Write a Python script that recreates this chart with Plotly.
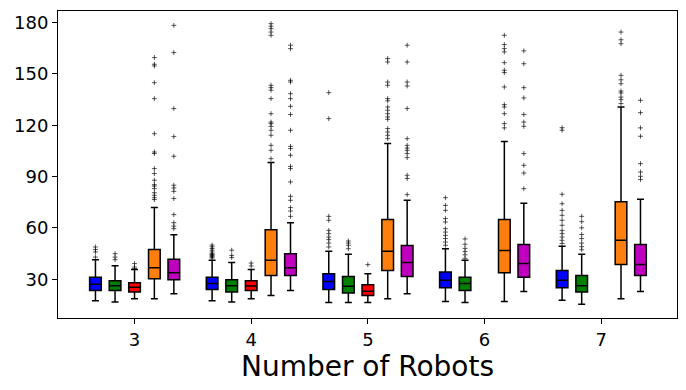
import plotly.graph_objects as go

ROBOTS = [3, 4, 5, 6, 7]
SERIES_NAMES = ["blue", "green", "red", "orange", "magenta"]
SERIES_COLORS = ["#0000ff", "#008000", "#ff0000", "#ff7f0e", "#bf00bf"]
# red has no runs for 6 and 7 robots
SERIES_ROBOTS = [ROBOTS, ROBOTS, [3, 4, 5], ROBOTS, ROBOTS]
OFFSETS = [-0.335, -0.167, 0.0, 0.17, 0.337]

# per series, one value per robot count
WHISK_LOW = [
    [17.5, 17.5, 16.4, 17.1, 17.7],
    [16.7, 16.7, 16.4, 16.4, 15.4],
    [18.7, 18.7, 16.4],
    [18.7, 20.5, 18.7, 17.1, 18.7],
    [21.6, 23.4, 21.6, 22.9, 22.9],
]
Q1 = [
    [23.4, 24.0, 24.0, 25.1, 25.1],
    [23.4, 22.6, 22.0, 23.4, 22.6],
    [22.6, 23.4, 20.5],
    [30.4, 32.2, 35.1, 33.9, 38.6],
    [29.8, 32.2, 31.6, 31.2, 32.2],
]
MEDIAN = [
    [27.1, 27.5, 28.8, 29.4, 29.4],
    [26.3, 26.3, 25.9, 27.5, 26.3],
    [25.3, 26.1, 23.0],
    [36.8, 41.1, 46.4, 46.9, 52.8],
    [33.9, 36.8, 39.8, 39.2, 38.6],
]
Q3 = [
    [31.2, 31.2, 33.3, 34.3, 35.1],
    [29.2, 29.8, 31.6, 31.2, 32.2],
    [28.0, 29.2, 26.9],
    [47.5, 59.0, 64.9, 64.9, 75.4],
    [41.7, 45.0, 49.7, 50.3, 50.3],
]
WHISK_HIGH = [
    [41.5, 41.1, 46.4, 47.9, 49.3],
    [38.0, 39.9, 44.6, 41.1, 44.6],
    [35.8, 35.8, 33.3],
    [71.9, 98.2, 109.3, 110.5, 130.7],
    [56.1, 63.1, 76.2, 74.4, 76.8],
]
OUTLIERS = [
    [
        [43.0, 46.0, 47.4, 48.9],
        [42.5, 43.0, 43.5, 44.0, 44.5, 45.0, 46.0, 47.0, 48.0, 49.0, 50.0],
        [48.9, 51.2, 53.2, 54.7, 56.7, 58.6, 64.5, 66.8, 123.9, 139.1],
        [49.9, 51.8, 53.8, 55.7, 57.6, 59.6, 63.5, 65.5, 70.3, 73.2, 77.7],
        [50.9, 52.8, 54.7, 56.7, 58.6, 61.6, 64.5, 67.4, 70.3, 74.2, 79.7, 117.1, 118.6],
    ],
    [
        [41.5, 43.0, 45.0],
        [42.7, 44.0, 47.0],
        [47.9, 49.9, 51.2, 52.4],
        [42.3, 44.3, 46.2, 48.1, 50.5, 53.6],
        [47.3, 49.1, 51.2, 53.8, 56.2, 60.1, 63.7, 66.8],
    ],
    [
        [36.3, 37.2, 39.2],
        [37.8, 39.5],
        [38.6],
    ],
    [
        [76.6, 77.7, 79.1, 80.6, 83.0, 84.5, 85.3, 87.9, 91.8, 94.7, 103.5, 104.4,
         115.1, 135.6, 144.9, 154.7, 155.7, 159.6],
        [100.5, 105.4, 108.3, 114.2, 117.1, 119.4, 121.0, 121.9, 126.8, 135.6,
         140.5, 142.0, 143.4, 172.6, 174.5, 176.5, 177.9, 179.4],
        [112.2, 114.2, 116.1, 118.1, 123.5, 124.9, 126.8, 128.8, 130.7, 134.3,
         135.6, 143.4, 145.3, 157.0, 159.0],
        [118.5, 121.0, 126.8, 130.7, 132.1, 142.4, 150.8, 152.2, 156.6, 162.9,
         164.8, 167.2, 172.6],
        [132.7, 135.0, 136.5, 138.9, 140.0, 144.3, 146.6, 149.2, 167.7, 170.0, 174.5],
    ],
    [
        [59.6, 61.1, 63.1, 67.8, 77.2, 81.4, 83.4, 85.0, 101.9, 113.4, 129.8, 162.5, 178.4],
        [66.8, 69.9, 71.9, 76.2, 78.5, 86.9, 94.7, 96.0, 102.5, 106.4, 107.7, 117.1,
         126.3, 131.1, 135.6, 138.5, 145.3, 146.3, 164.8, 166.8],
        [79.5, 88.9, 90.8, 101.1, 103.5, 105.4, 106.7, 108.3, 112.2, 129.8, 143.0,
         145.3, 157.0, 166.8],
        [83.0, 92.1, 96.6, 103.5, 119.4, 121.9, 126.3, 136.0, 142.0, 156.0, 163.5],
        [88.3, 90.2, 92.7, 97.6, 113.6, 118.5, 127.4, 134.6],
    ],
]

FONT = "DejaVu Sans"


def build_figure() -> go.Figure:
    fig = go.Figure()
    for i, name in enumerate(SERIES_NAMES):
        xs = [r + OFFSETS[i] for r in SERIES_ROBOTS[i]]
        fig.add_trace(go.Box(
            name=name,
            x=xs,
            q1=Q1[i], median=MEDIAN[i], q3=Q3[i],
            lowerfence=WHISK_LOW[i], upperfence=WHISK_HIGH[i],
            width=0.1,
            whiskerwidth=0.6,
            fillcolor=SERIES_COLORS[i],
            line=dict(color="black", width=1.5),
            boxpoints=False,
            showlegend=False,
        ))
        # fliers drawn as small crosses
        fx, fy = [], []
        for x, pts in zip(xs, OUTLIERS[i]):
            fx += [x] * len(pts)
            fy += pts
        fig.add_trace(go.Scatter(
            x=fx, y=fy, mode="markers",
            marker=dict(symbol="cross-thin", size=3.5,
                        line=dict(color="rgba(0,0,0,0.65)", width=1)),
            showlegend=False, hoverinfo="y",
        ))

    axis_style = dict(
        showline=True, mirror=True, linecolor="black", linewidth=1,
        ticks="outside", ticklen=5, tickcolor="black",
        showgrid=False, zeroline=False, automargin=False,
        tickfont=dict(family=FONT, size=18, color="black"),
    )
    # the page body adds an 8px margin, so the figure is sized a bit smaller
    fig.update_layout(
        width=678, height=382,
        margin=dict(l=50, r=9, t=3, b=72),
        plot_bgcolor="white", paper_bgcolor="white",
        font=dict(family=FONT, color="black"),
        xaxis=dict(axis_style, range=[2.344, 7.65], tickvals=ROBOTS,
                   title=dict(text="Number of Robots", standoff=0,
                              font=dict(family=FONT, size=28, color="black"))),
        yaxis=dict(axis_style, range=[7.4, 186.8],
                   tickvals=[30, 60, 90, 120, 150, 180]),
    )
    return fig


def main():
    fig = build_figure()
    fig.write_html("out.html")


if __name__ == "__main__":
    main()
